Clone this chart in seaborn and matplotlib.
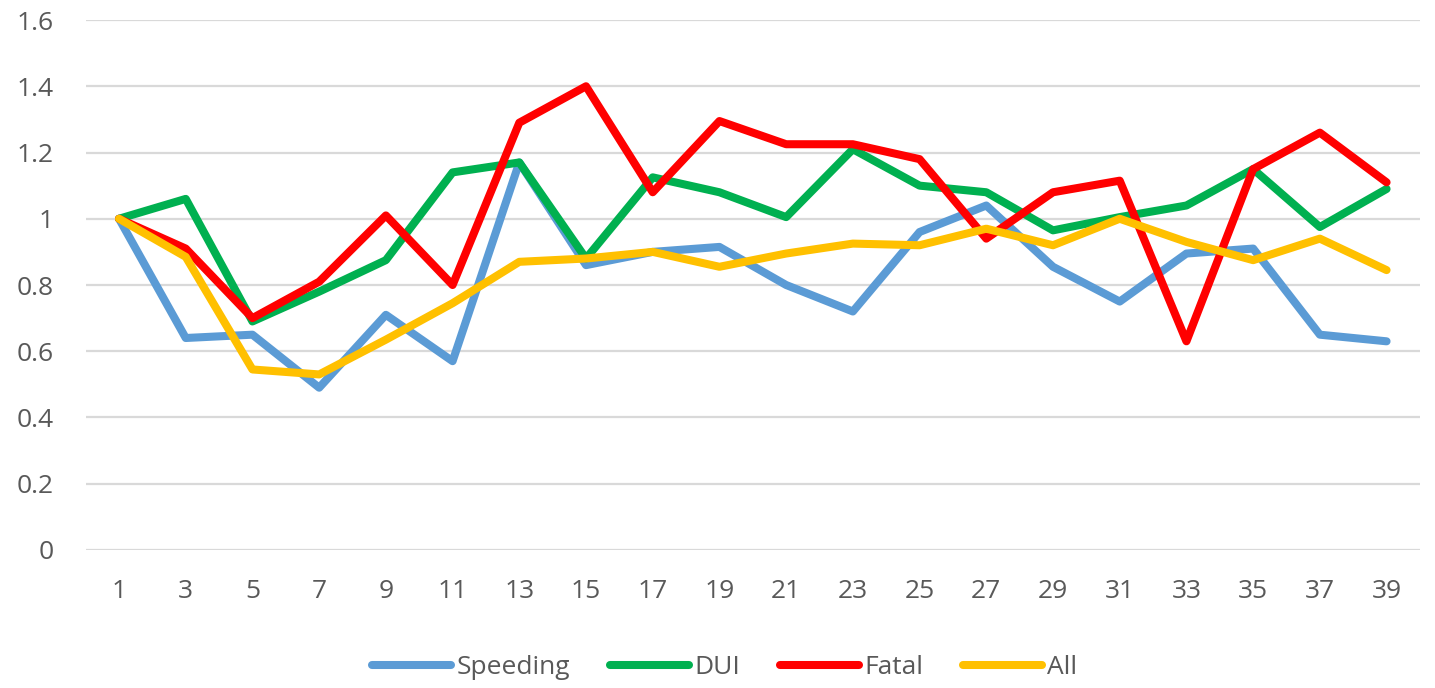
import pandas as pd
import numpy as np
import matplotlib
matplotlib.use('Agg')
import matplotlib.pyplot as plt
import seaborn as sns

periods = [str(p) for p in range(1, 40, 2)]
speeding = [1.0, 0.64, 0.65, 0.49, 0.71, 0.57, 1.17, 0.86, 0.90, 0.915,
            0.80, 0.72, 0.96, 1.04, 0.855, 0.75, 0.895, 0.91, 0.65, 0.63]
dui = [1.0, 1.06, 0.69, 0.78, 0.875, 1.14, 1.17, 0.88, 1.125, 1.08,
       1.005, 1.21, 1.10, 1.08, 0.965, 1.005, 1.04, 1.15, 0.975, 1.09]
fatal = [1.0, 0.91, 0.70, 0.81, 1.01, 0.80, 1.29, 1.40, 1.08, 1.295,
         1.225, 1.225, 1.18, 0.94, 1.08, 1.115, 0.63, 1.15, 1.26, 1.11]
all_ = [1.0, 0.885, 0.545, 0.53, 0.635, 0.745, 0.87, 0.88, 0.90, 0.855,
        0.895, 0.925, 0.92, 0.97, 0.92, 1.0, 0.93, 0.875, 0.94, 0.845]
series = ['Speeding', 'DUI', 'Fatal', 'All']
colors = ['#5B9BD5', '#00B050', '#FF0000', '#FFC000']

df = pd.concat([
    pd.DataFrame({'period': periods, 'value': vals, 'series': name})
    for name, vals in zip(series, [speeding, dui, fatal, all_])
], ignore_index=True)

sns.set_style('white')
plt.rcParams['font.family'] = ['Open Sans', 'DejaVu Sans']

fig = plt.figure(figsize=(14.35, 6.88), dpi=100)
ax = fig.add_axes([0.0597, 0.2006, 0.9298, 0.7703])

sns.lineplot(data=df, x='period', y='value', hue='series', hue_order=series,
             palette=colors, linewidth=5.8, sort=False, ax=ax, legend=False)

ax.set_ylim(0, 1.6)
ax.set_xlim(-0.5, len(periods) - 0.5)
ax.set_yticks(np.arange(0, 1.61, 0.2))
ax.set_yticklabels(['0', '0.2', '0.4', '0.6', '0.8', '1', '1.2', '1.4', '1.6'])
ax.grid(axis='y', color='#D9D9D9', linewidth=1.6)
ax.set_axisbelow(True)
for s in ax.spines.values():
    s.set_visible(False)
ax.tick_params(axis='both', length=0, labelsize=19, colors='#595959')
ax.tick_params(axis='y', pad=23)
ax.tick_params(axis='x', pad=21)
ax.set_xlabel('')
ax.set_ylabel('')

handles = [plt.Line2D([], [], color=c, linewidth=5.8, solid_capstyle='round') for c in colors]
fig.legend(handles, series, loc='center', bbox_to_anchor=(0.505, 0.03), ncol=4,
           frameon=False, fontsize=19, handlelength=3.0, handletextpad=0.2,
           columnspacing=1.5, labelcolor='#595959')

plt.savefig('out.png', dpi=100)
plt.close()
